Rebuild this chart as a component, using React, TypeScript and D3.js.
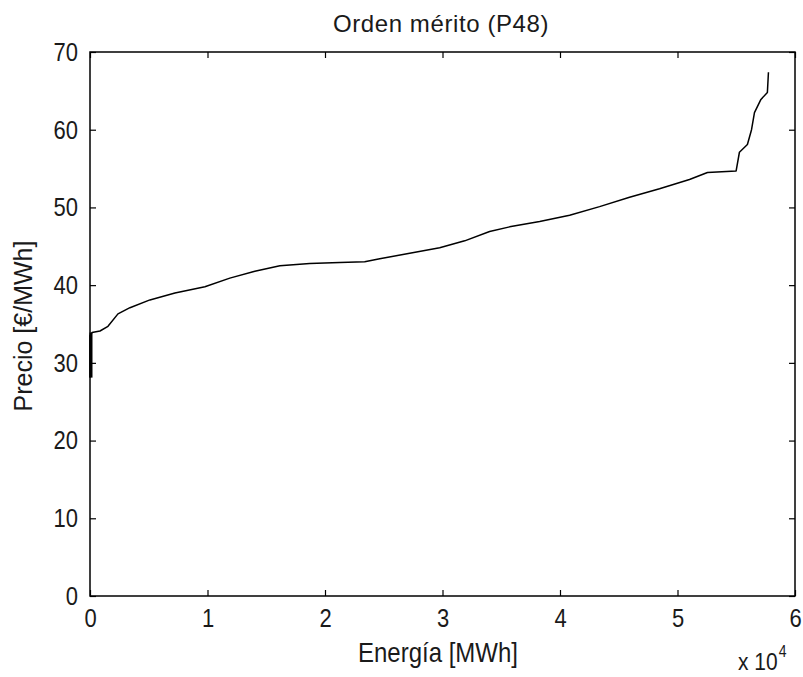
import { useEffect, useRef } from 'react';
import * as d3 from 'd3';

// merit order curve (energy in MWh, price in €/MWh)
const energy = [0, 0, 170, 850, 1530, 2380, 3400, 5100, 7230, 9780, 11900, 14030, 16160, 18700, 21260, 23380, 24660, 27210, 29760, 31890, 34010, 35710, 38270, 40820, 43370, 45920, 48470, 51020, 52550, 54990, 55270, 55950, 56300, 56550, 57100, 57650, 57740];
const price = [28.1, 33.5, 33.9, 34.1, 34.7, 36.3, 37.1, 38.1, 39.0, 39.8, 40.9, 41.8, 42.5, 42.8, 42.9, 43.0, 43.4, 44.1, 44.8, 45.7, 46.9, 47.5, 48.2, 49.0, 50.1, 51.3, 52.4, 53.6, 54.5, 54.7, 57.1, 58.1, 60.0, 62.2, 63.9, 64.8, 67.4];

const xTicks = [0, 1, 2, 3, 4, 5, 6];
const yTicks = [0, 10, 20, 30, 40, 50, 60, 70];

const FONT = '"Liberation Sans", Arial, sans-serif';
const STRETCH = 1.18; // text in the original looks a bit tall
const INK = '#1a1a1a';

export default function App() {
  const svgRef = useRef<SVGSVGElement | null>(null);

  useEffect(() => {
    document.body.style.margin = '0';
    const el = svgRef.current;
    if (!el) return;
    d3.select(el).selectAll('*').remove();

    const W = 803;
    const H = 677;
    const margin = { top: 52, right: 8, bottom: 81, left: 90 };
    const w = W - margin.left - margin.right;
    const h = H - margin.top - margin.bottom;

    const svg = d3.select(el).attr('width', W).attr('height', H);
    svg.append('rect').attr('width', W).attr('height', H).attr('fill', '#fff');

    const g = svg.append('g').attr('transform', `translate(${margin.left},${margin.top})`);

    const x = d3.scaleLinear().domain([0, 6e4]).range([0, w]);
    const y = d3.scaleLinear().domain([0, 70]).range([h, 0]);

    // box
    g.append('rect')
      .attr('width', w).attr('height', h)
      .attr('fill', 'none').attr('stroke', '#000').attr('stroke-width', 1.5);

    const tickLen = 6;
    const styleAxis = (sel: d3.Selection<SVGGElement, unknown, null, undefined>) => {
      sel.select('.domain').remove();
      sel.selectAll('line').attr('stroke', '#000').attr('stroke-width', 1.2);
      sel.selectAll('text')
        .style('font-family', FONT)
        .style('font-size', '22px')
        .style('fill', INK)
        .attr('transform', `scale(1,${STRETCH})`);
    };

    // bottom / left with labels, ticks pointing inward
    g.append('g').attr('transform', `translate(0,${h})`)
      .call(d3.axisBottom(x).tickValues(xTicks.map(v => v * 1e4)).tickSize(-tickLen).tickPadding(11).tickFormat((v) => String(+v / 1e4)))
      .call(styleAxis);

    g.append('g')
      .call(d3.axisLeft(y).tickValues(yTicks).tickSize(-tickLen).tickPadding(12).tickFormat(v => String(v)))
      .call(styleAxis);

    // top / right ticks only
    g.append('g')
      .call(d3.axisTop(x).tickValues(xTicks.map(v => v * 1e4)).tickSize(-tickLen).tickFormat(() => ''))
      .call(styleAxis);

    g.append('g').attr('transform', `translate(${w},0)`)
      .call(d3.axisRight(y).tickValues(yTicks).tickSize(-tickLen).tickFormat(() => ''))
      .call(styleAxis);

    // curve
    const pts = energy.map((e, i) => [e, price[i]] as [number, number]);
    const line = d3.line<[number, number]>()
      .x(d => x(d[0]))
      .y(d => y(d[1]));

    g.append('path')
      .datum(pts)
      .attr('fill', 'none')
      .attr('stroke', '#000')
      .attr('stroke-width', 1.5)
      .attr('stroke-linejoin', 'round')
      .attr('d', line);

    // thicker start segment
    g.append('line')
      .attr('x1', x(0) + 1).attr('x2', x(0) + 1)
      .attr('y1', y(price[0])).attr('y2', y(price[2]))
      .attr('stroke', '#000').attr('stroke-width', 3);

    // title + labels
    svg.append('text')
      .attr('x', 441).attr('y', 32)
      .attr('text-anchor', 'middle')
      .style('font-family', FONT).style('font-size', '24px').style('letter-spacing', '0.6px')
      .style('fill', INK)
      .text('Orden mérito (P48)');

    svg.append('text')
      .attr('transform', `translate(438,662) scale(1,${STRETCH})`)
      .attr('text-anchor', 'middle')
      .style('font-family', FONT).style('font-size', '24px')
      .style('fill', INK)
      .text('Energía [MWh]');

    svg.append('text')
      .attr('transform', `translate(32,326) rotate(-90)`)
      .attr('text-anchor', 'middle')
      .style('font-family', FONT).style('font-size', '25px')
      .style('fill', INK)
      .text('Precio [€/MWh]');

    const exp = svg.append('text')
      .attr('transform', `translate(738,670) scale(1,${STRETCH})`)
      .style('font-family', FONT).style('font-size', '21px')
      .style('fill', INK);
    exp.append('tspan').text('x 10');
    exp.append('tspan').attr('dy', -11).attr('dx', 1).style('font-size', '14px').text('4');
  }, []);

  return (
    <div style={{ position: 'relative' }}>
      <svg ref={svgRef} style={{ display: 'block' }} />
    </div>
  );
}
